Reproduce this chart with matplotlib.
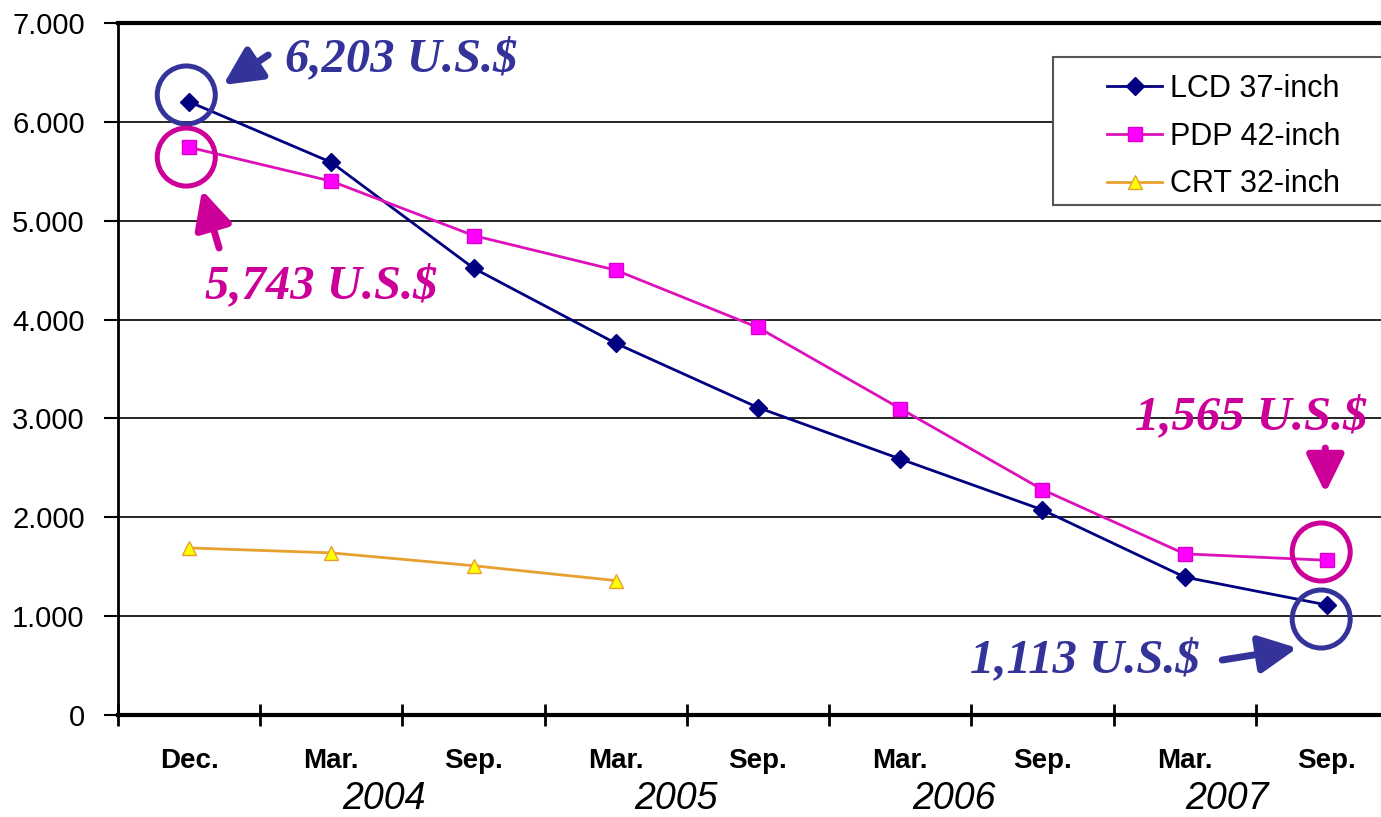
import matplotlib
matplotlib.use("Agg")
import matplotlib.pyplot as plt
from matplotlib.patches import Rectangle
from matplotlib.ticker import FixedLocator, FuncFormatter, NullFormatter
import numpy as np

months = ["Dec.", "Mar.", "Sep.", "Mar.", "Sep.", "Mar.", "Sep.", "Mar.", "Sep."]
years = ["2004", "2005", "2006", "2007"]
year_pos = [1.37, 3.42, 5.38, 7.3]

lcd_37 = [6203, 5590, 4520, 3760, 3110, 2590, 2075, 1395, 1113]
pdp_42 = [5743, 5400, 4850, 4500, 3920, 3100, 2280, 1630, 1565]
crt_32 = [1690, 1640, 1510, 1360]

BLUE = "#333399"
MAGENTA = "#CC0099"

# callouts: (text, color, text x, text baseline y)
callouts = [
    ("6,203 U.S.$", BLUE, 1.49, 6510),
    ("5,743 U.S.$", MAGENTA, 0.93, 4215),
    ("1,565 U.S.$", MAGENTA, 7.47, 2890),
    ("1,113 U.S.$", BLUE, 6.30, 430),
]
# circles around the highlighted points: (x, y, color)
rings = [(-0.02, 6272, BLUE), (-0.02, 5644, MAGENTA),
         (7.96, 1649, MAGENTA), (7.96, 971, BLUE)]
# arrows: (tail, tip, color)
arrows = [((0.556, 6676), (0.239, 6373), BLUE),
          ((0.211, 4724), (0.091, 5311), MAGENTA),
          ((7.989, 2701), (7.989, 2246), MAGENTA),
          ((7.264, 556), (7.792, 678), BLUE)]

plt.rcParams["font.family"] = ["Liberation Sans", "DejaVu Sans"]

fig = plt.figure(figsize=(13.81, 8.17), dpi=100)
ax = fig.add_axes([118 / 1381, 102 / 817, 1280 / 1381, 692 / 817])

x = np.arange(len(months))
ax.plot(x, lcd_37, color="#000080", lw=2, marker="D", ms=9,
        mfc="#000080", mec="#000080", label="LCD 37-inch", zorder=4)
ax.plot(x, pdp_42, color="#DD11BB", lw=2, marker="s", ms=9.5,
        mfc="#FF00FF", mec="#DD00CC", label="PDP 42-inch", zorder=4)
ax.plot(x[:len(crt_32)], crt_32, color="#E8A030", lw=2, marker="^", ms=10,
        mfc="#FFFF00", mec="#E8A030", label="CRT 32-inch", zorder=4)

ax.set_xlim(-0.5, 8.5)
ax.set_ylim(0, 7000)
ax.set_yticks(np.arange(0, 7001, 1000))
ax.yaxis.set_major_formatter(FuncFormatter(lambda v, p: f"{int(v):,}".replace(",", ".")))
ax.tick_params(axis="y", labelsize=21, length=10, width=1.5, pad=14)
ax.grid(axis="y", color="black", lw=1.2)
ax.set_axisbelow(True)

ax.xaxis.set_major_locator(FixedLocator(np.arange(-0.5, 9, 1.0)))
ax.xaxis.set_major_formatter(NullFormatter())
ax.xaxis.set_minor_locator(FixedLocator(x))
ax.set_xticklabels(months, minor=True, fontsize=20, fontweight="bold")
ax.tick_params(axis="x", which="major", direction="inout", length=16, width=2)
ax.tick_params(axis="x", which="minor", length=0, pad=24)

ax.spines["right"].set_visible(False)
ax.spines["left"].set_linewidth(2)
ax.spines["bottom"].set_linewidth(3)
ax.spines["top"].set_linewidth(3)

for yr, xp in zip(years, year_pos):
    ax.text(xp, -0.121, yr, transform=ax.get_xaxis_transform(), ha="center",
            va="center", fontsize=27, fontstyle="italic", clip_on=False)

for txt, c, tx, ty in callouts:
    ax.text(tx, ty, txt, color=c, ha="center", va="baseline", fontsize=35,
            family="Liberation Serif", fontweight="bold", fontstyle="italic", zorder=6)

for rx, ry, c in rings:
    ax.scatter([rx], [ry], s=1745, facecolors="none", edgecolors=c,
               linewidths=3.6, zorder=5, clip_on=False)

for tail, tip, c in arrows:
    ax.annotate("", xy=tip, xytext=tail,
                arrowprops=dict(arrowstyle="-|>,head_length=0.85,head_width=0.42",
                                color=c, lw=5, mutation_scale=27,
                                shrinkA=0, shrinkB=0), zorder=6)

ax.add_patch(Rectangle((1053 / 1381, 1 - 205 / 817), 400 / 1381, 148 / 817,
                       transform=fig.transFigure, facecolor="white",
                       edgecolor="#555555", lw=1.5, zorder=7, clip_on=False))
leg = ax.legend(loc="upper left", bbox_to_anchor=(1107 / 1381, 1 - 74 / 817),
                bbox_transform=fig.transFigure, frameon=False, fontsize=22,
                handlelength=1.8, handletextpad=0.25, labelspacing=0.58,
                borderpad=0, borderaxespad=0)
leg.set_zorder(10)

fig.savefig("out.png", dpi=100)
